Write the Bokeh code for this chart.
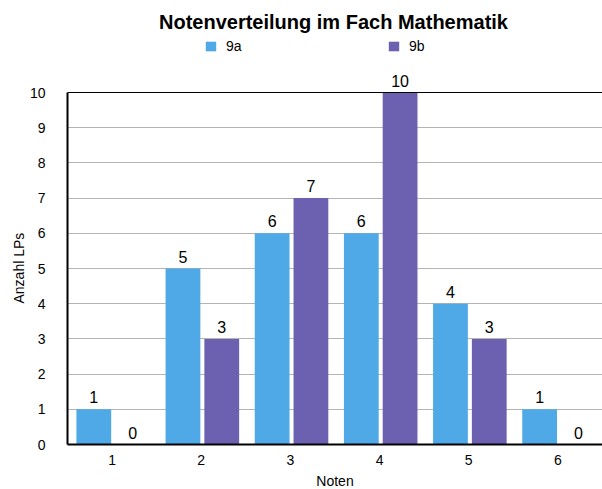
from bokeh.plotting import figure
from bokeh.models import ColumnDataSource, FactorRange, Label, Legend, LegendItem, Range1d, FixedTicker, Span, Title
from bokeh.transform import dodge
from bokeh.core.properties import value
from bokeh.embed import file_html
from bokeh.resources import INLINE

categories = ["1", "2", "3", "4", "5", "6"]
series_9a = [1, 5, 6, 6, 4, 1]
series_9b = [0, 3, 7, 10, 3, 0]
y_ticks = [0, 1, 2, 3, 4, 5, 6, 7, 8, 9, 10]
y_max = 10

c_a = "#4EA9E6"
c_b = "#6C60B0"
FONT = "Liberation Sans"

src = ColumnDataSource(dict(
    cat=categories,
    a=series_9a,
    b=series_9b,
    a_lbl=[str(v) for v in series_9a],
    b_lbl=[str(v) for v in series_9b],
))

# frame covers the whole top region so that title/legend/labels are not clipped;
# data area 0..10 occupies the lower 352 px of the 444 px tall frame
FRAME_H = 444
DATA_H = 352
p = figure(frame_width=535, frame_height=FRAME_H, x_range=FactorRange(*categories),
           y_range=Range1d(0, y_max * FRAME_H / DATA_H), output_backend="svg",
           toolbar_location=None,
           min_border_left=67, min_border_right=0, min_border_top=0, min_border_bottom=45)

ra = p.vbar(x=dodge("cat", -0.205, range=p.x_range), top="a", width=0.39, source=src,
            fill_color=c_a, line_color=None)
rb = p.vbar(x=dodge("cat", 0.23, range=p.x_range), top="b", width=0.39, source=src,
            fill_color=c_b, line_color=None)

p.text(x=dodge("cat", -0.205, range=p.x_range), y="a", text="a_lbl", source=src,
       text_align="center", text_baseline="bottom", y_offset=-6,
       text_font=value(FONT), text_font_size="16px", text_color="#000000")
p.text(x=dodge("cat", 0.23, range=p.x_range), y="b", text="b_lbl", source=src,
       text_align="center", text_baseline="bottom", y_offset=-6,
       text_font=value(FONT), text_font_size="16px", text_color="#000000")

p.outline_line_color = None
p.background_fill_color = "white"
p.border_fill_color = "white"

p.xgrid.grid_line_color = None
p.ygrid.grid_line_color = "#b4b4b4"
p.ygrid.grid_line_width = 1
p.yaxis.ticker = FixedTicker(ticks=y_ticks)
p.yaxis.bounds = (0, y_max)

top_border = Span(location=y_max, dimension="width", line_color="#000000", line_width=1)
p.add_layout(top_border)

for ax in (p.xaxis, p.yaxis):
    ax.axis_line_color = "#000000"
    ax.axis_line_width = 2
    ax.major_tick_line_color = None
    ax.minor_tick_line_color = None
    ax.major_label_text_font = FONT
    ax.major_label_text_font_size = "14px"
    ax.major_label_text_color = "#000000"
    ax.axis_label_text_font = FONT
    ax.axis_label_text_font_size = "14px"
    ax.axis_label_text_font_style = "normal"
    ax.axis_label_text_color = "#000000"

p.yaxis.major_label_standoff = 16
p.xaxis.axis_label = "Noten"
p.xaxis.major_label_standoff = 4
p.xaxis.axis_label_standoff = 5

# y-axis title, placed along the 0..10 data area (not the whole frame)
ytitle = Title(text="Anzahl LPs", align="left", offset=141,
               standoff=0, text_font=FONT, text_font_size="14px",
               text_font_style="normal", text_color="#000000")
p.add_layout(ytitle, "left")

title = Label(x=266, y=423, x_units="screen", y_units="screen",
              text="Notenverteilung im Fach Mathematik", text_align="center",
              text_baseline="alphabetic", text_font=FONT, text_font_size="20px",
              text_font_style="bold", text_color="#000000")
p.add_layout(title)

legend = Legend(items=[LegendItem(label="9a", renderers=[ra]),
                       LegendItem(label="9b", renderers=[rb])],
                location=(137, 390), orientation="horizontal",
                glyph_width=13, glyph_height=12, label_standoff=9,
                label_width=20, spacing=141, padding=0, margin=0,
                border_line_color=None, background_fill_alpha=0,
                label_text_font=FONT, label_text_font_size="14px",
                label_text_color="#000000")
p.add_layout(legend, "center")

open("out.html", "w").write(file_html(p, INLINE))
